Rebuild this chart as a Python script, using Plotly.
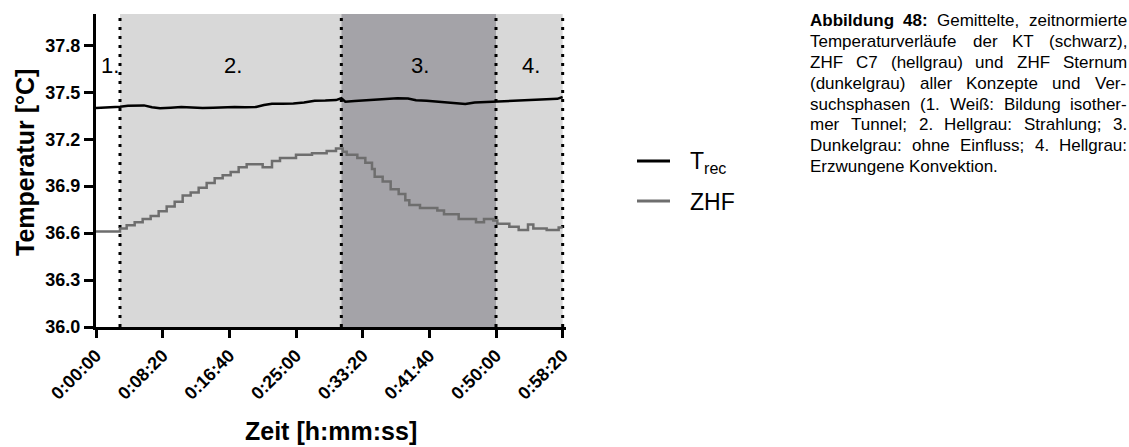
import plotly.graph_objects as go

# ---- data -------------------------------------------------------------
# rectal temperature (T_rec), time in seconds
trec_t = [0, 60, 120, 180, 240, 300, 360, 420, 480, 560, 640, 720, 800, 880,
          960, 1040, 1120, 1200, 1260, 1320, 1400, 1480, 1560, 1640, 1720,
          1800, 1840, 1870, 1940, 2020, 2100, 2180, 2260, 2340, 2400, 2480,
          2560, 2640, 2720, 2770, 2840, 2920, 3000, 3080, 3160, 3240, 3320,
          3400, 3460, 3500]
trec_v = [37.400, 37.402, 37.405, 37.408, 37.414, 37.416, 37.416, 37.404,
          37.398, 37.401, 37.405, 37.403, 37.399, 37.401, 37.404, 37.405,
          37.404, 37.406, 37.418, 37.426, 37.427, 37.428, 37.434, 37.446,
          37.447, 37.450, 37.462, 37.440, 37.444, 37.449, 37.455, 37.458,
          37.462, 37.460, 37.449, 37.446, 37.441, 37.436, 37.430, 37.425,
          37.435, 37.438, 37.442, 37.443, 37.446, 37.448, 37.450, 37.454,
          37.458, 37.470]

# skin heat flux sensor temperature (ZHF), stepped readings
zhf_t = [0, 180, 230, 290, 350, 410, 470, 530, 590, 650, 710, 770, 830, 890,
         950, 1010, 1070, 1130, 1250, 1320, 1380, 1500, 1620, 1730, 1800,
         1850, 1880, 1960, 2020, 2070, 2090, 2150, 2210, 2270, 2320, 2350,
         2430, 2560, 2610, 2720, 2850, 2910, 2980, 3010, 3100, 3170, 3240,
         3280, 3380, 3470, 3500]
zhf_v = [36.61, 36.63, 36.65, 36.67, 36.69, 36.71, 36.74, 36.77, 36.80,
         36.84, 36.86, 36.89, 36.92, 36.95, 36.97, 36.99, 37.02, 37.04,
         37.02, 37.06, 37.08, 37.10, 37.11, 37.125, 37.14, 37.12, 37.10,
         37.08, 37.05, 37.01, 36.96, 36.93, 36.88, 36.85, 36.81, 36.78,
         36.76, 36.745, 36.72, 36.69, 36.67, 36.69, 36.68, 36.66, 36.64,
         36.62, 36.655, 36.63, 36.62, 36.635, 36.635]

# experimental phases (start, end) in seconds and their labels
phase_bounds = [0, 180, 1840, 3000, 3500]
phase_labels = ["1.", "2.", "3.", "4."]
phase_label_t = [105, 1027, 2430, 3262]

x_tickvals = [0, 500, 1000, 1500, 2000, 2500, 3000, 3500]
x_ticktext = ["0:00:00", "0:08:20", "0:16:40", "0:25:00", "0:33:20",
              "0:41:40", "0:50:00", "0:58:20"]
y_tickvals = [36.0, 36.3, 36.6, 36.9, 37.2, 37.5, 37.8]

caption_lines = [
    "<b>Abbildung</b> <b>48:</b> Gemittelte, zeitnormierte",
    "Temperaturverläufe der KT (schwarz),",
    "ZHF C7 (hellgrau) und ZHF Sternum",
    "(dunkelgrau) aller Konzepte und Ver-",
    "suchsphasen (1. Weiß: Bildung isother-",
    "mer Tunnel; 2. Hellgrau: Strahlung; 3.",
    "Dunkelgrau: ohne Einfluss; 4. Hellgrau:",
    "Erzwungene Konvektion.",
]

# ---- styling ----------------------------------------------------------
FONT = "Liberation Sans, Arial, sans-serif"
BLACK = "#000000"
GRAY_LINE = "#6e6e6e"
LIGHT = "#d8d8d8"
DARK = "#a4a3a8"
phase_fill = [None, LIGHT, DARK, LIGHT]

W, H = 1129, 447
ML, MR, MT, MB = 96, 563, 14, 120
PW, PH = W - ML - MR, H - MT - MB


def xp(px):
    return (px - ML) / PW


def yp(py):
    return (H - MB - py) / PH


fig = go.Figure()

fig.add_trace(go.Scatter(x=trec_t, y=trec_v, mode="lines", name="T<sub>rec</sub>",
                         line=dict(color=BLACK, width=2.5), showlegend=False))
fig.add_trace(go.Scatter(x=zhf_t, y=zhf_v, mode="lines", name="ZHF",
                         line=dict(color=GRAY_LINE, width=2.5, shape="hv"),
                         showlegend=False))

shapes = []
for i, fill in enumerate(phase_fill):
    if fill is None:
        continue
    shapes.append(dict(type="rect", xref="x", yref="y",
                       x0=phase_bounds[i], x1=phase_bounds[i + 1], y0=36.0, y1=38.0,
                       fillcolor=fill, line=dict(width=0), layer="below"))
for b in phase_bounds[1:]:
    shapes.append(dict(type="line", xref="x", yref="y", x0=b, x1=b, y0=36.0, y1=38.0,
                       line=dict(color=BLACK, width=3, dash="3px,6px"), layer="below"))

# legend samples
for py, col in [(161, BLACK), (201, GRAY_LINE)]:
    shapes.append(dict(type="line", xref="paper", yref="paper",
                       x0=xp(637), x1=xp(670), y0=yp(py), y1=yp(py),
                       line=dict(color=col, width=3)))

annotations = []
for lab, t in zip(phase_labels, phase_label_t):
    annotations.append(dict(x=t, y=37.674, xref="x", yref="y", text=lab,
                            showarrow=False, xanchor="center", yanchor="middle",
                            font=dict(family=FONT, size=22, color=BLACK)))

annotations.append(dict(x=xp(688), y=yp(162), xref="paper", yref="paper",
                        text="T<sub>rec</sub>", showarrow=False, xanchor="left",
                        yanchor="middle", font=dict(family=FONT, size=23, color=BLACK)))
annotations.append(dict(x=xp(688), y=yp(202), xref="paper", yref="paper",
                        text="ZHF", showarrow=False, xanchor="left", yanchor="middle",
                        font=dict(family=FONT, size=23, color=BLACK)))

# axis titles
annotations.append(dict(x=xp(331), y=yp(431), xref="paper", yref="paper",
                        text="<b>Zeit [h:mm:ss]</b>", showarrow=False,
                        xanchor="center", yanchor="middle",
                        font=dict(family=FONT, size=25, color=BLACK)))
annotations.append(dict(x=xp(25), y=yp(163), xref="paper", yref="paper",
                        text="<b>Temperatur [°C]</b>", showarrow=False, textangle=-90,
                        xanchor="center", yanchor="middle",
                        font=dict(family=FONT, size=25, color=BLACK)))

# ---- justified caption block -------------------------------------------
REG = {' ': 278, '(': 333, ')': 333, ',': 278, '-': 333, '.': 278, ':': 278,
       ';': 278, 'A': 667, 'B': 667, 'C': 722, 'D': 722, 'E': 667, 'F': 611,
       'G': 778, 'H': 722, 'K': 667, 'S': 667, 'T': 611, 'V': 667, 'W': 944,
       'Z': 611, 'a': 556, 'b': 556, 'c': 500, 'd': 556, 'e': 556, 'f': 278,
       'g': 556, 'h': 556, 'i': 222, 'j': 222, 'k': 500, 'l': 222, 'm': 833,
       'n': 556, 'o': 556, 'p': 556, 'r': 333, 's': 500, 't': 278, 'u': 556,
       'v': 500, 'w': 722, 'x': 500, 'y': 500, 'z': 500, 'ä': 556, 'ß': 611,
       'ü': 556}
BOLD = {'A': 722, 'b': 611, 'i': 278, 'l': 278, 'd': 611, 'u': 611, 'n': 611,
        'g': 611, ':': 333}
CAP_SIZE = 17
CAP_X0, CAP_X1 = 808, 1125
CAP_Y0, CAP_DY = 20.7, 20.85


def word_width(word):
    bold = word.startswith("<b>")
    plain = word.replace("<b>", "").replace("</b>", "")
    total = 0
    for ch in plain:
        if bold:
            total += BOLD.get(ch, 556 if ch.isdigit() else REG.get(ch, 556))
        else:
            total += 556 if ch.isdigit() else REG.get(ch, 556)
    return total * CAP_SIZE / 1000.0


space_w = 278 * CAP_SIZE / 1000.0
for i, line in enumerate(caption_lines):
    py = CAP_Y0 + CAP_DY * i
    words = line.split(" ")
    widths = [word_width(w) for w in words]
    last = i == len(caption_lines) - 1
    if last or len(words) == 1:
        gap = space_w
    else:
        gap = max(space_w * 0.8,
                  (CAP_X1 - CAP_X0 - sum(widths)) / (len(words) - 1))
    x = CAP_X0
    for w, wd in zip(words, widths):
        annotations.append(dict(x=xp(x), y=yp(py), xref="paper", yref="paper",
                                text=w, showarrow=False, xanchor="left",
                                yanchor="middle",
                                font=dict(family=FONT, size=CAP_SIZE, color=BLACK)))
        x += wd + gap

fig.update_layout(
    width=W, height=H,
    margin=dict(l=ML, r=MR, t=MT, b=MB, pad=0),
    paper_bgcolor="white", plot_bgcolor="white",
    shapes=shapes, annotations=annotations,
    showlegend=False,
    font=dict(family=FONT, color=BLACK),
    xaxis=dict(range=[0, 3525], tickvals=x_tickvals, ticktext=x_ticktext,
               tickangle=-45, showgrid=False, zeroline=False, showline=True,
               linecolor=BLACK, linewidth=3, ticks="outside", ticklen=8,
               tickwidth=3, tickcolor=BLACK,
               tickfont=dict(family=FONT, size=18, color=BLACK, weight="bold")),
    yaxis=dict(range=[36.0, 38.0], tickvals=y_tickvals,
               ticktext=[f"{v:.1f}" for v in y_tickvals],
               showgrid=False, zeroline=False, showline=True,
               linecolor=BLACK, linewidth=3, ticks="outside", ticklen=9,
               tickwidth=3, tickcolor=BLACK,
               tickfont=dict(family=FONT, size=18, color=BLACK, weight="bold")),
)

fig.write_html("out.html")
